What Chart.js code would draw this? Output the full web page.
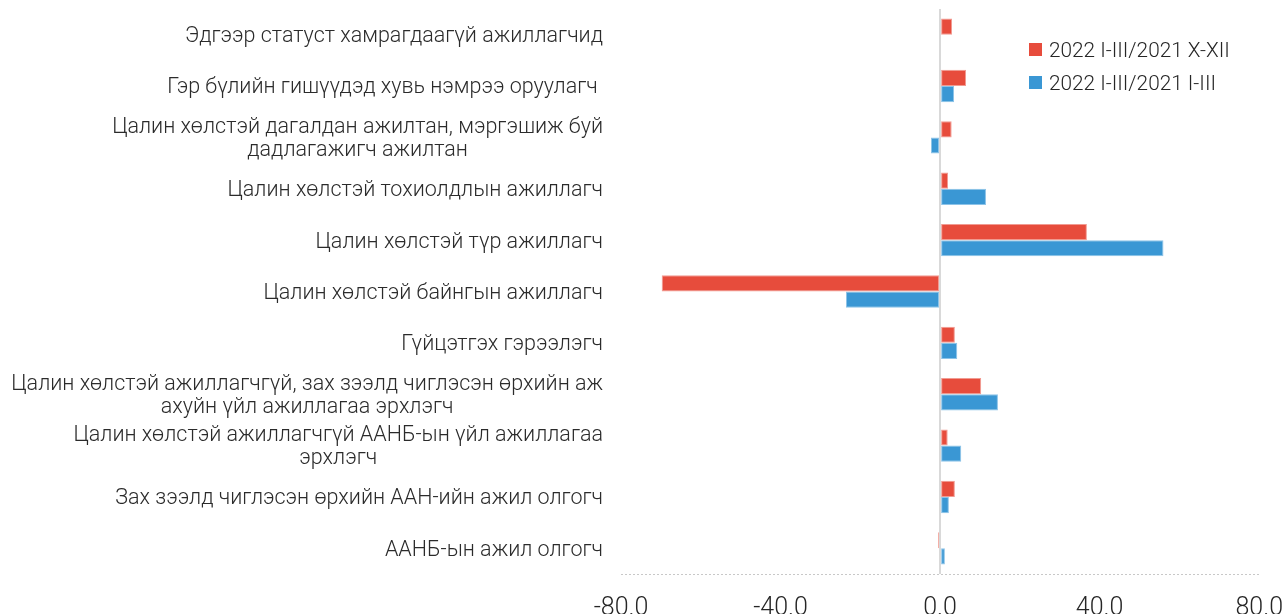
<!DOCTYPE html>
<html>
<head>
<meta charset="utf-8">
<script src="https://cdn.jsdelivr.net/npm/chart.js@4"></script>
<style>
  html, body { margin:0; padding:0; background:#fff; overflow:hidden; }
  #wrap { position:absolute; left:0; top:0; width:1303px; height:644px; }
  #legend { position:absolute; left:1029px; top:33px; font-family:Roboto, sans-serif; font-weight:300; font-size:20.8px; color:#262626; }
  #legend div { display:flex; align-items:center; height:33px; }
  #legend span.sw { width:13px; height:13px; margin-right:7px; display:inline-block; }
</style>
</head>
<body>
<div id="wrap"><canvas id="chart"></canvas></div>
<div id="legend"></div>
<script>
// ===== Data =====
const categories = [
  "Эдгээр статуст хамрагдаагүй ажиллагчид",
  "Гэр бүлийн гишүүдэд хувь нэмрээ оруулагч ",
  ["Цалин хөлстэй дагалдан ажилтан, мэргэшиж буй", "дадлагажигч ажилтан"],
  "Цалин хөлстэй тохиолдлын ажиллагч",
  "Цалин хөлстэй түр ажиллагч",
  "Цалин хөлстэй байнгын ажиллагч",
  "Гүйцэтгэх гэрээлэгч",
  ["Цалин хөлстэй ажиллагчгүй, зах зээлд чиглэсэн өрхийн аж", "ахуйн үйл ажиллагаа эрхлэгч"],
  ["Цалин хөлстэй ажиллагчгүй ААНБ-ын үйл ажиллагаа", "эрхлэгч"],
  "Зах зээлд чиглэсэн өрхийн ААН-ийн ажил олгогч",
  "ААНБ-ын ажил олгогч"
];
const seriesNames = ["2022 I-III/2021 X-XII", "2022 I-III/2021 I-III"];
const vsQ4 = [3.0, 6.5, 2.9, 2.0, 36.8, -69.8, 3.7, 10.3, 1.9, 3.7, -0.5];
const vsQ1 = [null, 3.5, -2.3, 11.5, 56.0, -23.6, 4.3, 14.5, 5.3, 2.2, 1.2];
const xTicks = [-80, -40, 0, 40, 80];

const colors = ["#e74c3c", "#3a97d4"];
const edges = ["#f19a91", "#8cc3e8"];

// ===== Category labels (right-aligned blocks, lines centred) =====
const catLabels = {
  id: "catLabels",
  afterDraw(chart) {
    const ctx = chart.ctx;
    const y = chart.scales.y;
    const lineH = 23;
    const right = chart.chartArea.left - 18;
    ctx.save();
    ctx.font = "300 21.5px Roboto";
    ctx.fillStyle = "#2b2b2b";
    ctx.textAlign = "center";
    ctx.textBaseline = "middle";
    categories.forEach((lab, i) => {
      const lines = Array.isArray(lab) ? lab : [lab];
      const w = Math.max(...lines.map(l => ctx.measureText(l).width));
      const cx = right - w / 2;
      const y0 = y.getPixelForTick(i) + 2 - (lines.length - 1) * lineH / 2;
      lines.forEach((l, j) => ctx.fillText(l, cx, y0 + j * lineH));
    });
    ctx.restore();
  }
};

// ===== Dotted category axis line =====
const dottedAxis = {
  id: "dottedAxis",
  beforeDatasetsDraw(chart) {
    const { ctx, chartArea } = chart;
    ctx.save();
    ctx.strokeStyle = "#c8c8c8";
    ctx.lineWidth = 1;
    ctx.setLineDash([2, 2]);
    ctx.beginPath();
    ctx.moveTo(chartArea.left, chartArea.bottom + 0.5);
    ctx.lineTo(chartArea.right, chartArea.bottom + 0.5);
    ctx.stroke();
    ctx.restore();
  }
};

// ===== Chart =====
const ctx = document.getElementById("chart").getContext("2d");
new Chart(ctx, {
  type: "bar",
  data: {
    labels: categories,
    datasets: [
      { label: seriesNames[0], data: vsQ4, backgroundColor: colors[0], borderColor: edges[0], borderWidth: 1, borderSkipped: false },
      { label: seriesNames[1], data: vsQ1, backgroundColor: colors[1], borderColor: edges[1], borderWidth: 1, borderSkipped: false }
    ]
  },
  options: {
    indexAxis: "y",
    responsive: true,
    maintainAspectRatio: false,
    animation: false,
    layout: { padding: { top: 9, right: 0, bottom: 0, left: 0 } },
    datasets: { bar: { categoryPercentage: 0.63, barPercentage: 1.0 } },
    plugins: { legend: { display: false }, tooltip: { enabled: false } },
    scales: {
      x: {
        min: xTicks[0],
        max: xTicks[xTicks.length - 1],
        afterBuildTicks: s => { s.ticks = xTicks.map(v => ({ value: v })); },
        ticks: {
          padding: 20,
          color: "#262626",
          font: { family: "Roboto", size: 25, weight: 300 },
          maxRotation: 0,
          callback: v => Number(v).toFixed(1)
        },
        grid: {
          drawTicks: false,
          color: c => (c.tick && c.tick.value === 0 ? "#d9d9d9" : "transparent"),
          lineWidth: 2
        },
        border: { display: false }
      },
      y: {
        ticks: { display: false },
        grid: { display: false },
        border: { display: false },
        afterFit: s => { s.width = 621; }
      }
    }
  },
  plugins: [dottedAxis, catLabels]
});

// ===== Legend =====
const legend = document.getElementById("legend");
seriesNames.forEach((name, i) => {
  const row = document.createElement("div");
  row.innerHTML = `<span class="sw" style="background:${colors[i]}"></span>${name}`;
  legend.appendChild(row);
});
</script>
</body>
</html>
